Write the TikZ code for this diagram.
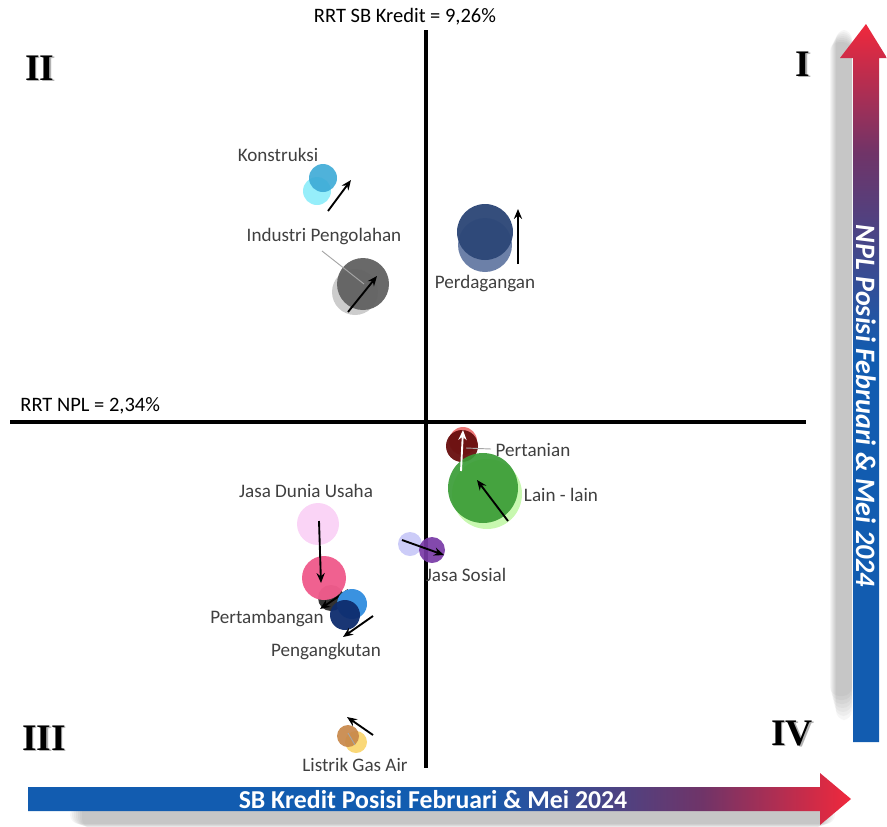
\documentclass[tikz,border=0pt]{standalone}
\usepackage{fontspec}
\setmainfont{Carlito}
\newfontfamily\quadfont{Liberation Serif}
\usetikzlibrary{arrows.meta}
\definecolor{labelgray}{RGB}{64,64,64}
\definecolor{axisblue}{RGB}{18,92,176}
\definecolor{axispurple}{RGB}{112,52,104}
\definecolor{axisred}{RGB}{240,40,60}
\definecolor{konlight}{RGB}{150,238,250}
\definecolor{kondark}{RGB}{60,170,214}
\definecolor{perlight}{RGB}{108,128,168}
\definecolor{perdark}{RGB}{46,72,120}
\definecolor{tanilight}{RGB}{236,120,120}
\definecolor{tanidark}{RGB}{104,14,14}
\definecolor{lainlight}{RGB}{200,248,176}
\definecolor{laindark}{RGB}{58,156,54}
\definecolor{soslight}{RGB}{204,204,248}
\definecolor{sosdark}{RGB}{120,58,166}
\definecolor{jdulight}{RGB}{250,212,246}
\definecolor{jdudark}{RGB}{240,92,140}
\definecolor{anglight}{RGB}{58,146,224}
\definecolor{angdark}{RGB}{14,44,110}
\definecolor{lgalight}{RGB}{250,216,120}
\definecolor{lgadark}{RGB}{200,136,74}
\pgfdeclarehorizontalshading{axisshade}{100bp}{color(0bp)=(axisblue); color(25bp)=(axisblue); color(52bp)=(axisblue); color(66bp)=(axispurple); color(75bp)=(axisred); color(100bp)=(axisred)}

\begin{document}
\begin{tikzpicture}[
    x=0.03cm, y=-0.03cm,
    sector/.style={font=\fontsize{16.3}{18}\selectfont, text=labelgray, inner sep=1pt},
    rrt/.style={font=\fontsize{17.5}{19}\selectfont, text=black, inner sep=1pt},
    bubble/.style={circle, inner sep=0pt, minimum size=#1*0.06cm},
    move/.style={-{Stealth[length=8.5pt, width=7pt]}, line width=1.6pt, black},
    leader/.style={draw=gray!70, line width=0.8pt},
    quad/.style={font=\quadfont\bfseries\fontsize{32}{32}\selectfont, inner sep=0pt},
    axistext/.style={font=\bfseries\fontsize{22}{24}\selectfont, text=white, inner sep=0pt}
]
    \useasboundingbox (0,0) rectangle (887,826);

    % shadows of the axis arrows
    \foreach \s in {0,2,...,12}{
        \fill[black, opacity=0.035, rounded corners=8pt] (70+\s,806-\s/2) rectangle (835-\s,824+\s/3);
        \fill[black, opacity=0.035, rounded corners=8pt] (836-\s/2,30+\s) rectangle (852,720-\s*2);
    }

    % axis arrows
    \shade[shading=axisshade] (28,787) -- (820,787) -- (820,773) -- (851,799)
        -- (820,825) -- (820,811) -- (28,811) -- cycle;
    \shade[shading=axisshade, shading angle=90] (853,742) -- (853,58) -- (840,58)
        -- (866,24) -- (887,58) -- (879,58) -- (879,742) -- cycle;
    \node[axistext] (xtitle) at (433,800) {SB Kredit Posisi Februari \& Mei 2024};
    \node[axistext, font=\bfseries\itshape\fontsize{24}{25}\selectfont, rotate=-90] (ytitle) at (866,406) {NPL Posisi Februari \& Mei 2024};

    % quadrant lines
    \coordinate (vtop) at (426,30);
    \coordinate (vbot) at (426,768);
    \coordinate (hleft) at (10,422);
    \coordinate (hright) at (806,422);
    \draw[line width=2.6pt] (vtop) -- (vbot);
    \draw[line width=2.6pt] (hleft) -- (hright);
    \node[rrt] (rrtsb) at (405,17) {RRT SB Kredit = 9,26\%};
    \node[rrt, anchor=west] (rrtnpl) at (19,406) {RRT NPL = 2,34\%};

    % quadrant numbers
    \foreach \t/\px/\py in {II/40/68, I/803/64, III/44/738, IV/792/733}{
        \node[quad, text=gray!60] at (\px+1.5,\py+1.5) {\t};
        \node[quad] (q\t) at (\px,\py) {\t};
    }

    % Quadrant II
    \node[bubble=14, fill=konlight] (konA) at (317,191) {};
    \node[bubble=14, fill=kondark, fill opacity=0.9] (konB) at (323,178) {};
    \node[sector] (konL) at (278,155) {Konstruksi};
    \coordinate (konS) at (328,211);
    \coordinate (konE) at (351,180);
    \draw[move] (konS) -- (konE);

    \node[bubble=23, fill=gray!40] (indA) at (355,292) {};
    \node[bubble=26, fill=black!62, fill opacity=0.95] (indB) at (363,284) {};
    \node[sector] (indL) at (324,237) {Industri Pengolahan};
    \coordinate (indP) at (322,251);
    \coordinate (indQ) at (364,284);
    \draw[leader] (indP) -- (indQ);
    \coordinate (indS) at (348,312);
    \coordinate (indE) at (377,276);
    \draw[move] (indS) -- (indE);

    % Quadrant I
    \node[bubble=27, fill=perlight] (perA) at (485,245) {};
    \node[bubble=28, fill=perdark, fill opacity=0.97] (perB) at (485,232) {};
    \node[sector] (perL) at (485,284) {Perdagangan};
    \coordinate (perS) at (518,264);
    \coordinate (perE) at (518,209);
    \draw[move] (perS) -- (perE);

    % Quadrant IV
    \node[bubble=14, fill=tanilight] (taniA) at (463,441) {};
    \node[bubble=16, fill=tanidark, fill opacity=0.95] (taniB) at (462,446) {};
    \node[bubble=35, fill=lainlight] (lainA) at (487,494) {};
    \node[bubble=35, fill=laindark, fill opacity=0.92] (lainB) at (483,488) {};
    \node[sector] (taniL) at (533,450) {Pertanian};
    \coordinate (taniP) at (466,448);
    \coordinate (taniQ) at (491,449);
    \draw[leader] (taniP) -- (taniQ);
    \coordinate (taniS) at (461,471);
    \coordinate (taniE) at (463,430);
    \draw[move, white] (taniS) -- (taniE);
    \node[sector] (lainL) at (561,495) {Lain - lain};
    \coordinate (lainS) at (508,521);
    \coordinate (lainE) at (477,480);
    \draw[move] (lainS) -- (lainE);

    \node[bubble=12, fill=soslight] (sosA) at (410,544) {};
    \node[bubble=13, fill=sosdark, fill opacity=0.92] (sosB) at (432,550) {};
    \node[sector] (sosL) at (466,575) {Jasa Sosial};
    \coordinate (sosS) at (402,540);
    \coordinate (sosE) at (444,555);
    \draw[move] (sosS) -- (sosE);

    % Quadrant III
    \node[bubble=21, fill=jdulight] (jduA) at (318,524) {};
    \node[bubble=13, fill=black!80] (tamB) at (331,598) {};
    \node[bubble=22, fill=jdudark, fill opacity=0.97] (jduB) at (324,578) {};
    \node[sector] (jduL) at (306,491) {Jasa Dunia Usaha};
    \coordinate (jduS) at (319,521);
    \coordinate (jduE) at (321,583);
    \draw[move] (jduS) -- (jduE);
    \node[sector] (tamL) at (267,618) {Pertambangan};
    \coordinate (tamS) at (348,590);
    \coordinate (tamE) at (320,609);
    \draw[move] (tamS) -- (tamE);

    \node[bubble=15, fill=anglight] (angA) at (352,604) {};
    \node[bubble=15, fill=angdark, fill opacity=0.95] (angB) at (345,615) {};
    \node[sector] (angL) at (326,652) {Pengangkutan};
    \coordinate (angS) at (373,616);
    \coordinate (angE) at (343,637);
    \draw[move] (angS) -- (angE);

    \node[bubble=11, fill=lgalight] (lgaA) at (356,742) {};
    \node[bubble=11, fill=lgadark, fill opacity=0.92] (lgaB) at (348,736) {};
    \coordinate (lgaP) at (348,733);
    \coordinate (lgaQ) at (355,745);
    \draw[leader] (lgaP) -- (lgaQ);
    \node[sector] (lgaL) at (355,765) {Listrik Gas Air};
    \coordinate (lgaS) at (373,735);
    \coordinate (lgaE) at (347,717);
    \draw[move] (lgaS) -- (lgaE);
\end{tikzpicture}
\end{document}
